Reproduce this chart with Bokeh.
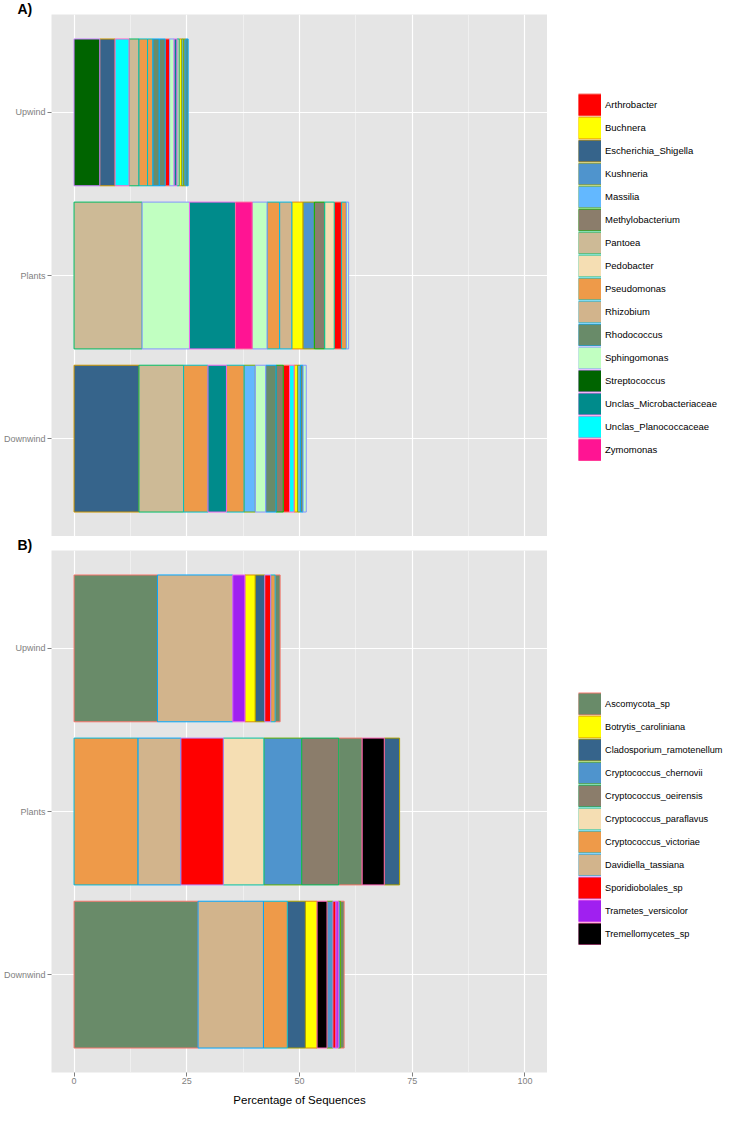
from bokeh.plotting import figure
from bokeh.models import (ColumnDataSource, FactorRange, FixedTicker, Legend,
                          LegendItem, Title, Range1d)
from bokeh.layouts import column, row
from bokeh.embed import file_html
from bokeh.resources import INLINE

# ---------------- data ----------------
sites = ["Downwind", "Plants", "Upwind"]          # bottom -> top
x_ticks = [0, 25, 50, 75, 100]
x_minor = [12.5, 37.5, 62.5, 87.5]

# Panel A (bacteria)
genera_a = ["Arthrobacter", "Buchnera", "Escherichia_Shigella", "Kushneria",
            "Massilia", "Methylobacterium", "Pantoea", "Pedobacter",
            "Pseudomonas", "Rhizobium", "Rhodococcus", "Sphingomonas",
            "Streptococcus", "Unclas_Microbacteriaceae",
            "Unclas_Planococcaceae", "Zymomonas"]
fill_a = ["#FF0000", "#FFFF00", "#36648B", "#4F94CD", "#63B8FF", "#8B7D6B",
          "#CDBA96", "#F5DEB3", "#EE9A49", "#D2B48C", "#698B69", "#C1FFC1",
          "#006400", "#008B8B", "#00FFFF", "#FF1493"]
line_a = ["#F8766D", "#E68613", "#CD9600", "#ABA300", "#7CAE00", "#0CB702",
          "#00BE67", "#00C19A", "#00BFC4", "#00B8E7", "#00A9FF", "#8494FF",
          "#C77CFF", "#ED68ED", "#FF61CC", "#FF68A1"]

upwind_a_genus = ["Streptococcus", "Escherichia_Shigella", "Unclas_Planococcaceae",
                  "Pantoea", "Pseudomonas", "Pseudomonas", "Rhodococcus",
                  "Rhodococcus", "Arthrobacter", "Sphingomonas",
                  "Unclas_Microbacteriaceae", "Pedobacter", "Buchnera",
                  "Massilia", "Kushneria", "Rhodococcus"]
upwind_a_pct = [5.7, 3.4, 3.1, 2.2, 1.9, 1.2, 1.4, 1.3, 1.0, 1.0, 0.6, 0.5,
                0.6, 0.4, 0.5, 0.5]
plants_a_genus = ["Pantoea", "Sphingomonas", "Unclas_Microbacteriaceae",
                  "Zymomonas", "Sphingomonas", "Pseudomonas", "Rhizobium",
                  "Buchnera", "Kushneria", "Methylobacterium", "Pedobacter",
                  "Arthrobacter", "Pseudomonas", "Sphingomonas"]
plants_a_pct = [15.1, 10.5, 10.2, 3.7, 3.3, 2.8, 2.7, 2.5, 2.5, 2.3, 2.1, 1.6,
                1.1, 0.5]
downwind_a_genus = ["Escherichia_Shigella", "Pantoea", "Pseudomonas",
                    "Unclas_Microbacteriaceae", "Pseudomonas", "Massilia",
                    "Sphingomonas", "Rhodococcus", "Methylobacterium",
                    "Arthrobacter", "Unclas_Planococcaceae", "Buchnera",
                    "Massilia", "Rhodococcus", "Sphingomonas"]
downwind_a_pct = [14.4, 9.9, 5.4, 4.1, 3.9, 2.5, 2.3, 2.3, 1.6, 1.4, 1.0, 0.8,
                  0.6, 0.6, 0.7]

# Panel B (fungi)
genera_b = ["Ascomycota_sp", "Botrytis_caroliniana", "Cladosporium_ramotenellum",
            "Cryptococcus_chernovii", "Cryptococcus_oeirensis",
            "Cryptococcus_paraflavus", "Cryptococcus_victoriae",
            "Davidiella_tassiana", "Sporidiobolales_sp", "Trametes_versicolor",
            "Tremellomycetes_sp"]
fill_b = ["#698B69", "#FFFF00", "#36648B", "#4F94CD", "#8B7D6B", "#F5DEB3",
          "#EE9A49", "#D2B48C", "#FF0000", "#A020F0", "#000000"]
line_b = ["#F8766D", "#DB8E00", "#AEA200", "#64B200", "#00BD5C", "#00C1A7",
          "#00BADE", "#00A6FF", "#B385FF", "#EF67EB", "#FF63B6"]

upwind_b_genus = ["Ascomycota_sp", "Davidiella_tassiana", "Trametes_versicolor",
                  "Botrytis_caroliniana", "Cladosporium_ramotenellum",
                  "Sporidiobolales_sp", "Cryptococcus_victoriae", "Ascomycota_sp"]
upwind_b_pct = [18.5, 16.7, 2.7, 2.3, 2.1, 1.3, 1.0, 1.1]
plants_b_genus = ["Cryptococcus_victoriae", "Davidiella_tassiana",
                  "Sporidiobolales_sp", "Cryptococcus_paraflavus",
                  "Cryptococcus_chernovii", "Cryptococcus_oeirensis",
                  "Ascomycota_sp", "Tremellomycetes_sp",
                  "Cladosporium_ramotenellum"]
plants_b_pct = [14.2, 9.5, 9.4, 9.0, 8.4, 8.2, 5.2, 4.9, 3.4]
downwind_b_genus = ["Ascomycota_sp", "Davidiella_tassiana",
                    "Cryptococcus_victoriae", "Cladosporium_ramotenellum",
                    "Botrytis_caroliniana", "Tremellomycetes_sp",
                    "Cryptococcus_chernovii", "Sporidiobolales_sp",
                    "Trametes_versicolor", "Cryptococcus_chernovii",
                    "Ascomycota_sp"]
downwind_b_pct = [27.5, 14.5, 5.3, 4.0, 2.6, 2.2, 1.3, 0.7, 0.5, 0.5, 0.8]

# ---------------- layout constants ----------------
FONT = "Liberation Sans"
GREY = "#7F7F7F"
FRAME_W = 496
FRAME_H = 522
LEFT = 44
LEG_W = 717 - LEFT - FRAME_W
KEY = 23
TOP_EST = 7          # approx. height taken by the tag above each panel


def make_panel(tag, genera, fills, lines, stacks, with_xaxis,
               leg_fig_h, bottom_est, leg_from_top, leg_font):
    p = figure(
        y_range=FactorRange(factors=sites, range_padding=0.1,
                            range_padding_units="absolute"),
        x_range=(-5, 105),
        frame_width=FRAME_W, frame_height=FRAME_H,
        min_border_left=LEFT, min_border_right=0,
        min_border_top=0, min_border_bottom=0,
        x_axis_location="below" if with_xaxis else None,
        output_backend="svg", toolbar_location=None,
        background_fill_color="#E5E5E5", border_fill_color="white",
    )
    p.outline_line_color = None

    # panel tag ("A)" / "B)") at the top-left corner of the panel
    p.add_layout(Title(text=tag, align="left", offset=-34, standoff=-4,
                       vertical_align="bottom", text_font=FONT,
                       text_font_size="14px", text_font_style="bold",
                       text_color="black"), "above")

    # grid
    p.xgrid.ticker = FixedTicker(ticks=x_ticks, minor_ticks=x_minor)
    p.xgrid.grid_line_color = "white"
    p.xgrid.grid_line_width = 1.2
    p.xgrid.minor_grid_line_color = "#F2F2F2"
    p.xgrid.minor_grid_line_width = 0.8
    p.ygrid.grid_line_color = "white"
    p.ygrid.grid_line_width = 1.2

    # y axis
    ya = p.yaxis[0]
    ya.axis_line_color = None
    ya.major_tick_line_color = GREY
    ya.major_tick_out = 4
    ya.major_tick_in = 0
    ya.minor_tick_line_color = None
    ya.major_label_text_font = FONT
    ya.major_label_text_font_size = "9px"
    ya.major_label_text_color = GREY
    ya.major_label_standoff = 2

    if with_xaxis:
        xa = p.xaxis[0]
        xa.ticker = FixedTicker(ticks=x_ticks, minor_ticks=x_minor)
        xa.axis_line_color = None
        xa.major_tick_line_color = GREY
        xa.major_tick_out = 4
        xa.major_tick_in = 0
        xa.minor_tick_line_color = None
        xa.major_label_text_font = FONT
        xa.major_label_text_font_size = "9px"
        xa.major_label_text_color = GREY
        xa.major_label_standoff = 1
        xa.axis_label = "Percentage of Sequences"
        xa.axis_label_text_font = FONT
        xa.axis_label_text_font_size = "11.5px"
        xa.axis_label_text_font_style = "normal"
        xa.axis_label_text_color = "black"
        xa.axis_label_standoff = 7

    # legend panel: a separate figure sharing the data; its x view lies far
    # from the bars so only the legend is visible
    lf = figure(width=LEG_W, height=leg_fig_h, y_range=p.y_range,
                x_range=Range1d(-1001, -1000),
                x_axis_location=None, y_axis_location=None,
                min_border_left=0, min_border_right=0,
                min_border_top=0, min_border_bottom=0,
                output_backend="svg", toolbar_location=None,
                background_fill_color="white", border_fill_color="white")
    lf.outline_line_color = None
    lf.xgrid.visible = False
    lf.ygrid.visible = False

    # stacked segments, one renderer per genus
    segs = {g: {"y": [], "left": [], "right": []} for g in genera}
    for site, (gen_list, pct_list) in stacks.items():
        acc = 0.0
        for g, v in zip(gen_list, pct_list):
            segs[g]["y"].append(site)
            segs[g]["left"].append(acc)
            segs[g]["right"].append(acc + v)
            acc += v

    items = []
    for g, fc, lc in zip(genera, fills, lines):
        src = ColumnDataSource(segs[g])
        p.hbar(y="y", left="left", right="right", height=0.9,
               source=src, fill_color=fc, line_color=lc, line_width=1)
        # legend key: square in the outline colour with the fill colour inside
        r1 = lf.line(x="left", y="y", source=src, line_color=lc,
                     line_width=KEY)
        r2 = lf.line(x="left", y="y", source=src, line_color=fc,
                     line_width=KEY - 2)
        items.append(LegendItem(label=g, renderers=[r1, r2]))

    leg_h = KEY * len(genera)
    vy = leg_fig_h - bottom_est - TOP_EST - leg_from_top - leg_h
    leg = Legend(items=items, location=(31, vy),
                 glyph_width=KEY, glyph_height=KEY, label_height=KEY,
                 spacing=0, padding=0, margin=0, label_standoff=4,
                 label_text_font=FONT, label_text_font_size=leg_font,
                 label_text_color="black", label_text_baseline="middle",
                 background_fill_alpha=0, border_line_alpha=0)
    lf.add_layout(leg, "center")
    return row(p, lf, spacing=0)


pa = make_panel("A)", genera_a, fill_a, line_a,
                {"Upwind": (upwind_a_genus, upwind_a_pct),
                 "Plants": (plants_a_genus, plants_a_pct),
                 "Downwind": (downwind_a_genus, downwind_a_pct)},
                with_xaxis=False, leg_fig_h=536, bottom_est=0,
                leg_from_top=86, leg_font="9.5px")
pb = make_panel("B)", genera_b, fill_b, line_b,
                {"Upwind": (upwind_b_genus, upwind_b_pct),
                 "Plants": (plants_b_genus, plants_b_pct),
                 "Downwind": (downwind_b_genus, downwind_b_pct)},
                with_xaxis=True, leg_fig_h=576, bottom_est=38,
                leg_from_top=147, leg_font="9.2px")

layout = column(pa, pb, spacing=0)
open("out.html", "w").write(file_html(layout, INLINE))
